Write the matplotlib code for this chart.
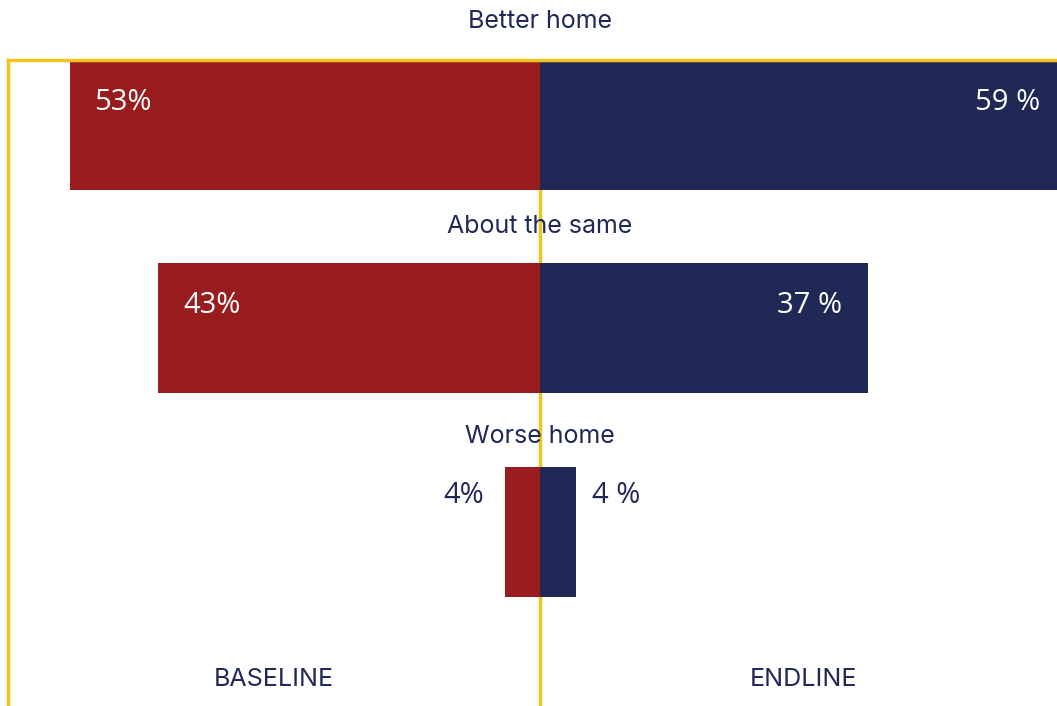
import matplotlib.pyplot as plt

# survey answers, share of respondents (%)
categories = ['Better home', 'About the same', 'Worse home']
baseline = [53, 43, 4]
endline = [59, 37, 4]
baseline_labels = ['53%', '43%', '4%']
endline_labels = ['59 %', '37 %', '4 %']
side_labels = ['BASELINE', 'ENDLINE']

RED = '#991c1f'
NAVY = '#202856'
GOLD = '#f0c41b'

W, H = 1057, 706
fig = plt.figure(figsize=(W / 100, H / 100), dpi=100)
ax = fig.add_axes([8 / W, 0, 1 - 8 / W, (H - 60) / H])

ys = range(len(categories))
ax.barh(ys, [-v for v in baseline], height=0.64, color=RED, zorder=2)
ax.barh(ys, endline, height=0.64, color=NAVY, zorder=2)
ax.axvline(0, color=GOLD, lw=2.5, zorder=1)

ax.set_xlim(-59.95, 58.25)
ax.set_ylim(2.858, -0.32)

val_font = dict(family=['Open Sans', 'DejaVu Sans'], fontsize=21)
cat_font = dict(family=['Inter', 'DejaVu Sans'], fontsize=18, color=NAVY)
head_gap = [0.51, 0.5, 0.47]

for i, (cat, b, e) in enumerate(zip(categories, baseline, endline)):
    ax.text(0, i - head_gap[i], cat, ha='center', va='center', clip_on=False, **cat_font)
    if b > 10:
        ax.text(-b + 2.8, i - 0.11, baseline_labels[i], ha='left', va='center',
                color='white', **val_font)
    else:
        ax.text(-b - 2.3, i - 0.18, baseline_labels[i], ha='right', va='center',
                color=NAVY, **val_font)
    if e > 10:
        # the longest bar runs off the right edge, keep its label in view
        ex = ax.get_xlim()[1] - 1.9 if e > ax.get_xlim()[1] else e - 3
        ax.text(ex, i - 0.11, endline_labels[i], ha='right', va='center',
                color='white', **val_font)
    else:
        ax.text(e + 1.9, i - 0.18, endline_labels[i], ha='left', va='center',
                color=NAVY, **val_font)

ax.text(-30, 2.73, side_labels[0], ha='center', va='center', **cat_font)
ax.text(29.7, 2.73, side_labels[1], ha='center', va='center', **cat_font)

for s in ['right', 'bottom']:
    ax.spines[s].set_visible(False)
for s in ['left', 'top']:
    ax.spines[s].set_color(GOLD)
    ax.spines[s].set_linewidth(2.5)
ax.set_xticks([])
ax.set_yticks([])

fig.savefig('out.png', dpi=100)
